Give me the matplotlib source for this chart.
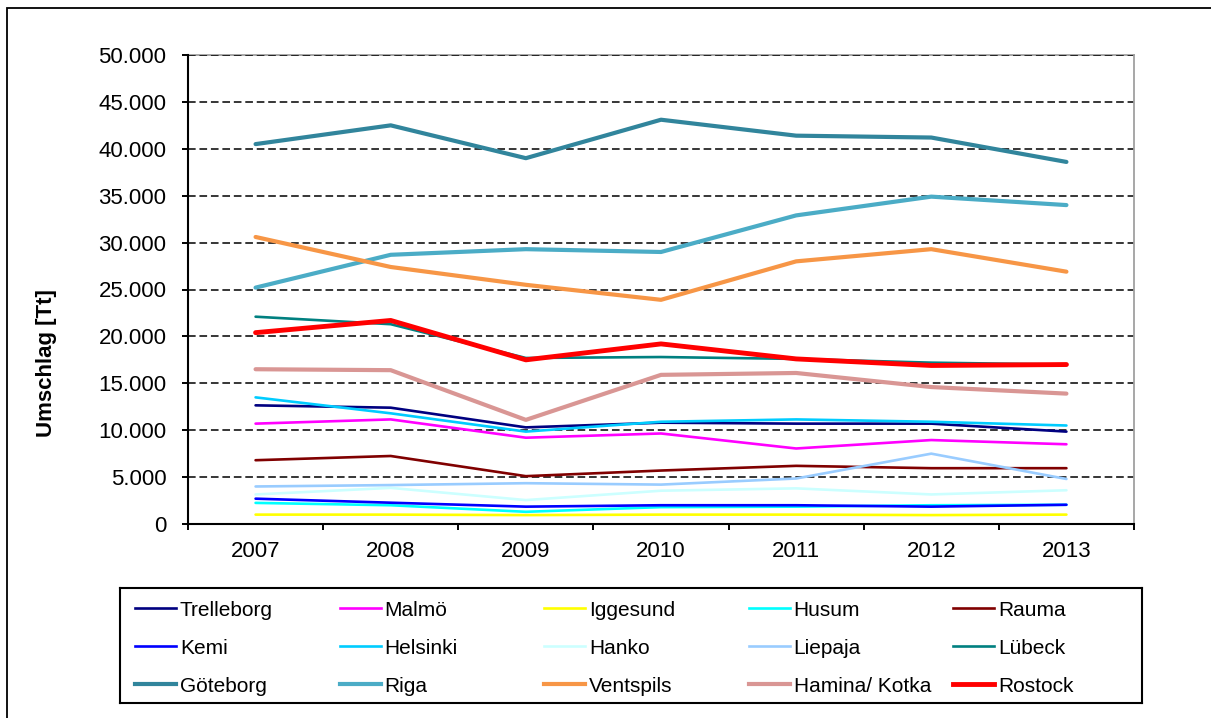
import matplotlib.pyplot as plt
from matplotlib.patches import Rectangle
from matplotlib.ticker import FuncFormatter, MultipleLocator

plt.rcParams['font.family'] = ['Liberation Sans', 'DejaVu Sans']

# Umschlag der Ostseehäfen in Tt, 2007-2013
years = ["2007", "2008", "2009", "2010", "2011", "2012", "2013"]

trelleborg = [12650, 12400, 10300, 10800, 10700, 10700, 9850]
malmoe = [10700, 11150, 9200, 9650, 8050, 8950, 8500]
iggesund = [1000, 1000, 950, 1000, 1000, 950, 1000]
husum = [2250, 2000, 1300, 1800, 1850, 2000, 2050]
rauma = [6800, 7250, 5100, 5700, 6200, 5950, 5950]
kemi = [2700, 2270, 1850, 2000, 2000, 1850, 2050]
helsinki = [13500, 11800, 9850, 10900, 11150, 10900, 10500]
hanko = [3150, 3850, 2550, 3550, 3800, 3150, 3600]
liepaja = [4000, 4150, 4350, 4200, 4850, 7500, 4800]
luebeck = [22100, 21300, 17700, 17800, 17600, 17200, 17000]
goeteborg = [40500, 42500, 39000, 43100, 41400, 41200, 38600]
riga = [25200, 28700, 29300, 29000, 32900, 34900, 34000]
ventspils = [30600, 27400, 25500, 23900, 28000, 29300, 26900]
hamina = [16500, 16400, 11100, 15900, 16100, 14600, 13900]
rostock = [20400, 21700, 17500, 19200, 17600, 16900, 17000]

names = ["Trelleborg", "Malmö", "Iggesund", "Husum", "Rauma",
         "Kemi", "Helsinki", "Hanko", "Liepaja", "Lübeck",
         "Göteborg", "Riga", "Ventspils", "Hamina/ Kotka", "Rostock"]
series = [trelleborg, malmoe, iggesund, husum, rauma,
          kemi, helsinki, hanko, liepaja, luebeck,
          goeteborg, riga, ventspils, hamina, rostock]
colors = ["#000080", "#FF00FF", "#FFFF00", "#00FFFF", "#800000",
          "#0000FF", "#00CCFF", "#CCFFFF", "#99CCFF", "#008080",
          "#31859C", "#4BACC6", "#F79646", "#D99694", "#FF0000"]
widths = [1.9] * 10 + [3.0, 3.0, 3.0, 3.0, 3.5]

W, H = 1211, 718
fig = plt.figure(figsize=(W / 100, H / 100), dpi=100)

def frac(x0, y0, x1, y1):
    # pixel box -> figure fractions
    return [x0 / W, 1 - y1 / H, (x1 - x0) / W, (y1 - y0) / H]

# chart border
fig.patches.append(Rectangle((7 / W, -0.05), 1.1, 1 - 8 / H + 0.05,
                             transform=fig.transFigure, fill=False,
                             edgecolor="black", linewidth=1.3))

ax = fig.add_axes(frac(188, 55, 1134, 524))
x = range(len(years))
for vals, c, lw in zip(series, colors, widths):
    ax.plot(x, vals, color=c, linewidth=lw,
            solid_capstyle="round", solid_joinstyle="round")

ax.set_xlim(-0.5, len(years) - 0.5)
ax.set_ylim(0, 50000)
ax.yaxis.set_major_locator(MultipleLocator(5000))
ax.yaxis.set_major_formatter(FuncFormatter(lambda v, p: f"{int(v):,}".replace(",", ".")))
ax.set_xticks(list(x))
ax.set_xticklabels(years)
ax.set_xticks([i - 0.5 for i in range(len(years) + 1)], minor=True)
ax.tick_params(axis="x", which="major", length=0, pad=12, labelsize=16)
ax.tick_params(axis="x", which="minor", length=4.5, width=1.4, direction="out")
ax.tick_params(axis="y", length=4.5, width=1.4, direction="out", pad=11, labelsize=16)

ax.set_axisbelow(True)
ax.yaxis.grid(True, color="black", linestyle=(0, (5, 2.5)), linewidth=1.1)
for side in ["left", "bottom"]:
    ax.spines[side].set_linewidth(1.5)
    ax.spines[side].set_color("black")
for side in ["top", "right"]:
    ax.spines[side].set_linewidth(1.3)
    ax.spines[side].set_color("#A0A0A0")
ax.spines["top"].set_zorder(0.3)

fig.text(47 / W, 1 - 363 / H, "Umschlag [Tt]", rotation=90,
         ha="center", va="center", fontsize=16, fontweight="bold")

# legend: 3 rows x 5 columns, filled row by row
leg = fig.add_axes(frac(120, 588, 1142, 703))
leg.set_xlim(120, 1142)
leg.set_ylim(703, 588)
leg.set_xticks([])
leg.set_yticks([])
for s in leg.spines.values():
    s.set_linewidth(1.5)
    s.set_color("black")
for i, (name, c, lw) in enumerate(zip(names, colors, widths)):
    row, col = divmod(i, 5)
    x0 = 135 + 204.5 * col
    y0 = 608 + 38 * row
    leg.plot([x0, x0 + 41], [y0, y0], color=c, linewidth=lw)
    leg.text(x0 + 45, y0 + 2, name, fontsize=15, va="center", ha="left")

fig.savefig("out.png", dpi=100)
